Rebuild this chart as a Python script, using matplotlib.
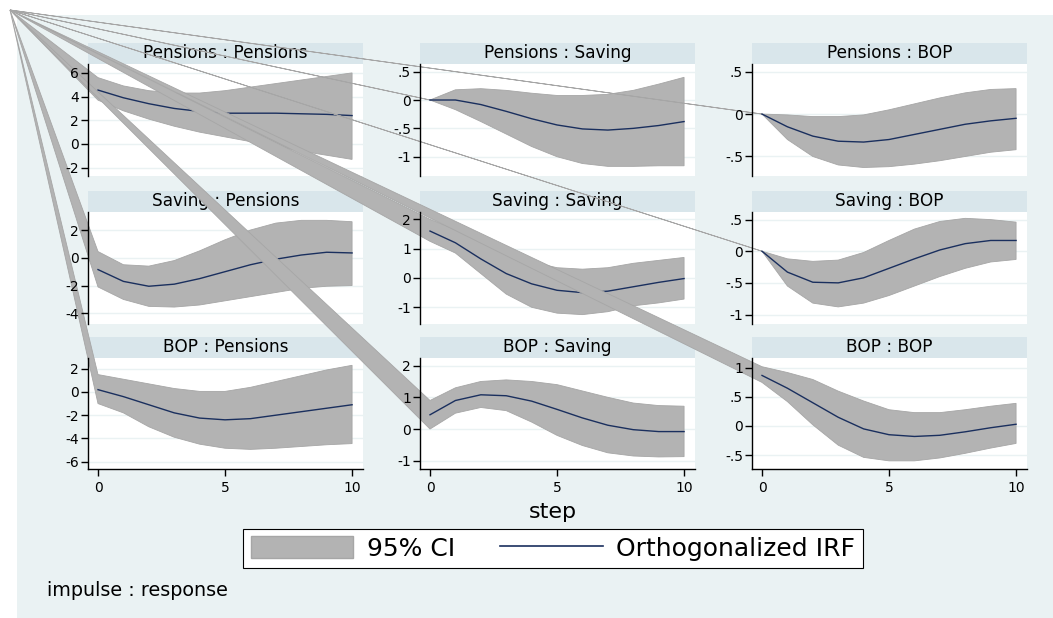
import matplotlib
matplotlib.use('Agg')
import matplotlib.pyplot as plt
from matplotlib.patches import Rectangle, Patch
from matplotlib.lines import Line2D

steps = [0, 1, 2, 3, 4, 5, 6, 7, 8, 9, 10]

titles = ['Pensions : Pensions', 'Pensions : Saving', 'Pensions : BOP',
          'Saving : Pensions', 'Saving : Saving', 'Saving : BOP',
          'BOP : Pensions', 'BOP : Saving', 'BOP : BOP']

# orthogonalized IRF and 95% CI
irf_pp = [4.55, 3.9, 3.4, 3.0, 2.75, 2.6, 2.6, 2.6, 2.55, 2.5, 2.4]
hi_pp = [5.6, 4.9, 4.5, 4.3, 4.3, 4.5, 4.8, 5.1, 5.4, 5.7, 6.0]
lo_pp = [3.7, 2.8, 2.1, 1.5, 1.0, 0.6, 0.2, -0.2, -0.6, -0.95, -1.3]

irf_ps = [0.0, 0.0, -0.08, -0.2, -0.33, -0.44, -0.51, -0.53, -0.5, -0.45, -0.38]
hi_ps = [0.0, 0.18, 0.2, 0.17, 0.12, 0.08, 0.08, 0.1, 0.17, 0.28, 0.4]
lo_ps = [0.0, -0.17, -0.38, -0.6, -0.82, -1.0, -1.12, -1.17, -1.17, -1.16, -1.16]

irf_pb = [0.0, -0.15, -0.26, -0.32, -0.33, -0.3, -0.24, -0.18, -0.12, -0.08, -0.05]
hi_pb = [0.0, -0.01, -0.03, -0.03, -0.01, 0.05, 0.12, 0.19, 0.25, 0.29, 0.3]
lo_pb = [0.0, -0.3, -0.5, -0.6, -0.63, -0.62, -0.59, -0.55, -0.5, -0.45, -0.42]

irf_sp = [-0.85, -1.7, -2.05, -1.9, -1.5, -1.0, -0.5, -0.1, 0.2, 0.4, 0.35]
hi_sp = [0.45, -0.5, -0.6, -0.2, 0.5, 1.3, 2.0, 2.5, 2.7, 2.7, 2.6]
lo_sp = [-2.1, -3.0, -3.5, -3.55, -3.4, -3.1, -2.8, -2.5, -2.2, -2.05, -2.0]

irf_ss = [1.6, 1.2, 0.65, 0.15, -0.2, -0.42, -0.5, -0.45, -0.3, -0.15, -0.02]
hi_ss = [2.0, 1.65, 1.25, 0.9, 0.55, 0.35, 0.3, 0.35, 0.5, 0.6, 0.7]
lo_ss = [1.25, 0.85, 0.15, -0.55, -1.0, -1.2, -1.25, -1.15, -0.95, -0.85, -0.72]

irf_sb = [0.0, -0.33, -0.49, -0.5, -0.42, -0.27, -0.12, 0.02, 0.12, 0.17, 0.17]
hi_sb = [0.0, -0.12, -0.16, -0.14, -0.02, 0.17, 0.35, 0.47, 0.52, 0.5, 0.46]
lo_sb = [0.0, -0.55, -0.82, -0.88, -0.82, -0.7, -0.55, -0.4, -0.27, -0.17, -0.13]

irf_bp = [0.2, -0.4, -1.1, -1.8, -2.25, -2.4, -2.3, -2.0, -1.7, -1.4, -1.1]
hi_bp = [1.5, 1.1, 0.7, 0.3, 0.05, 0.05, 0.4, 0.9, 1.4, 1.9, 2.3]
lo_bp = [-1.0, -1.8, -3.0, -3.9, -4.5, -4.85, -4.95, -4.85, -4.7, -4.55, -4.45]

irf_bs = [0.45, 0.9, 1.08, 1.05, 0.88, 0.62, 0.35, 0.12, -0.02, -0.08, -0.08]
hi_bs = [0.9, 1.3, 1.5, 1.55, 1.5, 1.4, 1.2, 1.0, 0.82, 0.74, 0.72]
lo_bs = [0.0, 0.5, 0.68, 0.58, 0.22, -0.2, -0.52, -0.75, -0.85, -0.88, -0.87]

irf_bb = [0.87, 0.65, 0.4, 0.15, -0.05, -0.15, -0.18, -0.16, -0.1, -0.03, 0.03]
hi_bb = [1.02, 0.92, 0.8, 0.6, 0.43, 0.28, 0.23, 0.23, 0.28, 0.34, 0.39]
lo_bb = [0.75, 0.42, 0.02, -0.33, -0.54, -0.6, -0.6, -0.55, -0.47, -0.38, -0.3]

irfs = [irf_pp, irf_ps, irf_pb, irf_sp, irf_ss, irf_sb, irf_bp, irf_bs, irf_bb]
his = [hi_pp, hi_ps, hi_pb, hi_sp, hi_ss, hi_sb, hi_bp, hi_bs, hi_bb]
los = [lo_pp, lo_ps, lo_pb, lo_sp, lo_ss, lo_sb, lo_bp, lo_bs, lo_bb]

yticks = [[-2, 0, 2, 4, 6], [-1, -0.5, 0, 0.5], [-0.5, 0, 0.5],
          [-4, -2, 0, 2], [-1, 0, 1, 2], [-1, -0.5, 0, 0.5],
          [-6, -4, -2, 0, 2], [-1, 0, 1, 2], [-0.5, 0, 0.5, 1]]
ylims = [(-2.7, 6.75), (-1.34, 0.635), (-0.73, 0.59),
         (-4.77, 3.3), (-1.57, 2.25), (-1.15, 0.62),
         (-6.64, 2.93), (-1.26, 2.24), (-0.74, 1.17)]
xticks = [0, 5, 10]
xlim = (-0.394, 10.43)

W, H = 1053, 618
bg = '#eaf2f3'
strip_col = '#d9e6eb'
band_col = '#b3b3b3'
band_edge = '#a6a6a6'
line_col = '#1a2f5e'

plt.rcParams['font.family'] = ['DejaVu Sans']


def fx(px):
    return px / W


def fy(py):
    return 1 - py / H


def stata_fmt(v):
    if v == int(v):
        return str(int(v))
    return ('%g' % v).replace('0.', '.')


fig = plt.figure(figsize=(W / 100, H / 100), dpi=100)
fig.patch.set_facecolor('white')
fig.patches.append(Rectangle((fx(17), 0), 1, fy(15), transform=fig.transFigure,
                             facecolor=bg, edgecolor='none', zorder=-10))

lefts = [88, 420, 752]
tops = [64, 212, 358]
bottoms = [176, 324, 469]
corner = (fx(10), fy(10))

rects = []
# first pass: plot regions, bands and lines, in panel order
for k in range(9):
    r, c = divmod(k, 3)
    h = bottoms[r] - tops[r]
    rect = [fx(lefts[c]), fy(bottoms[r]), 275 / W, h / H]
    rects.append(rect)
    ax = fig.add_axes(rect)
    ax.set_xlim(*xlim)
    ax.set_ylim(*ylims[k])
    ax.set_facecolor('white')
    for s in ax.spines.values():
        s.set_visible(False)
    ax.set_yticks(yticks[k])
    ax.set_xticks([])
    ax.tick_params(left=False, labelleft=False)
    ax.grid(axis='y', color=bg, linewidth=1.0, zorder=0)
    ax.set_axisbelow(True)

    # title strip
    sh = 21 / h
    ax.add_patch(Rectangle((0, 1), 1, sh, transform=ax.transAxes, clip_on=False,
                           facecolor=strip_col, edgecolor='none', zorder=0.5))
    ax.text(0.5, 1 + sh / 2, titles[k], transform=ax.transAxes, ha='center',
            va='center', fontsize=12.2, zorder=0.6)

    # CI band, closed back through the figure corner like the original export
    cx, cy = ax.transData.inverted().transform(fig.transFigure.transform(corner))
    xs = steps + steps[::-1] + [cx]
    ys = his[k] + los[k][::-1] + [cy]
    ax.fill(xs, ys, facecolor=band_col, edgecolor=band_edge, linewidth=0.6,
            clip_on=False, zorder=1)
    ax.plot(steps, irfs[k], color=line_col, linewidth=1.0, zorder=2)

# second pass: axis lines, ticks and labels on top
for k in range(9):
    r = k // 3
    ov = fig.add_axes(rects[k])
    ov.patch.set_visible(False)
    ov.set_xlim(*xlim)
    ov.set_ylim(*ylims[k])
    for s in ['top', 'right']:
        ov.spines[s].set_visible(False)
    ov.spines['left'].set_linewidth(1.0)
    ov.set_yticks(yticks[k])
    ov.set_yticklabels([stata_fmt(v) for v in yticks[k]])
    ov.tick_params(axis='y', length=5, width=1, pad=1.5, labelsize=10)
    if r == 2:
        ov.set_xticks(xticks)
        ov.tick_params(axis='x', length=5, width=1, pad=4, labelsize=10)
        ov.spines['bottom'].set_linewidth(1.0)
    else:
        ov.set_xticks([])
        ov.spines['bottom'].set_visible(False)

fig.text(fx(553), fy(512), 'step', ha='center', va='center', fontsize=16)

handles = [Patch(facecolor=band_col, edgecolor=band_edge),
           Line2D([], [], color=line_col, linewidth=1.2)]
leg = fig.legend(handles, ['95% CI', 'Orthogonalized IRF'], loc='center',
                 bbox_to_anchor=(fx(553), fy(548.5)), ncol=2, frameon=True,
                 fancybox=False, edgecolor='black', framealpha=1, fontsize=18,
                 handlelength=4.1, handleheight=0.95, handletextpad=0.55,
                 columnspacing=1.8, borderpad=0.3, borderaxespad=0)
leg.get_frame().set_linewidth(0.8)

fig.text(fx(47), fy(590), 'impulse : response', ha='left', va='center', fontsize=13.8)

fig.savefig('out.png', dpi=100)
